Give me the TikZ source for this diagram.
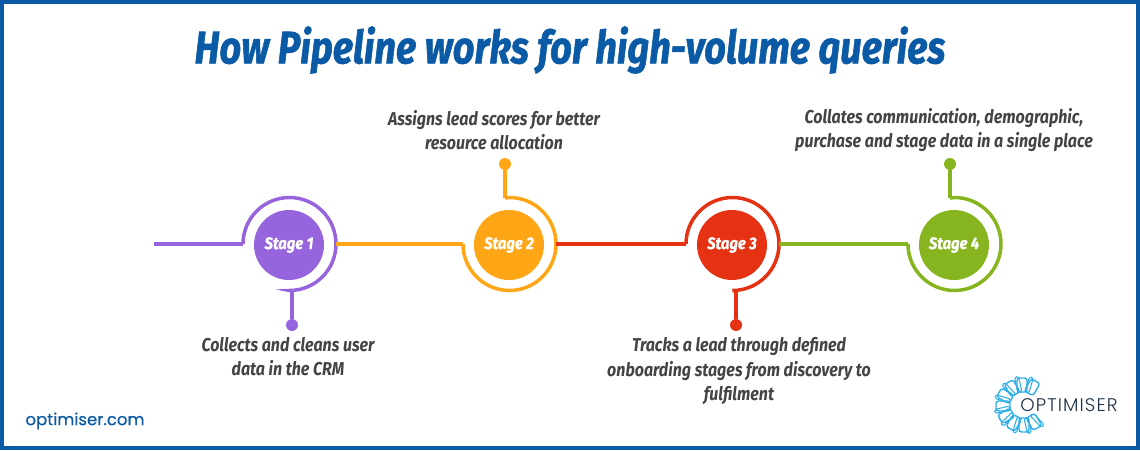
\documentclass[tikz,border=0pt]{standalone}
\usepackage{fontspec}
\setmainfont{Fira Sans}
\newfontfamily\headfont[FakeStretch=0.86]{Fira Sans}
\newfontfamily\titlefont[FakeStretch=0.83,FakeBold=1.2]{Fira Sans}
\newfontfamily\stagefont[FakeStretch=0.88,FakeBold=0.8]{Fira Sans}
\newfontfamily\urlfont[FakeBold=0.4]{Poppins}
\newfontfamily\logofont[LetterSpace=6]{Poppins Light}
\definecolor{framecol}{HTML}{0B5AA5}
\definecolor{textcol}{HTML}{444444}
\definecolor{purplecol}{HTML}{9664DC}
\definecolor{orangecol}{HTML}{FFA616}
\definecolor{redcol}{HTML}{E53212}
\definecolor{greencol}{HTML}{86B51F}
\definecolor{logocol}{HTML}{2FAEE8}
\definecolor{logotext}{HTML}{1E2F45}

\begin{document}
\begin{tikzpicture}[x=0.02cm,y=-0.02cm]
\tikzset{stage/.style = {shape=circle,minimum size=1.4cm,inner sep=0pt,text=white,
	font=\stagefont\bfseries\itshape\fontsize{9.6}{11}\selectfont}}
\tikzset{dot/.style = {shape=circle,minimum size=0.24cm,inner sep=0pt}}
\tikzset{caption/.style = {align=center,text=textcol,
	font=\headfont\bfseries\itshape\fontsize{10.6}{13.7}\selectfont}}
\tikzset{edge/.style = {line width=2.3pt}}
\tikzset{ring/.style = {line width=2pt}}
\useasboundingbox (0,0) rectangle (1140,450);
\draw[framecol,line width=2.3pt] (2,2) rectangle (1138,448);

% vertices
\node[stage,fill=purplecol] (s1) at (289,245) {Stage 1};
\node[stage,fill=orangecol] (s2) at (509,245) {Stage 2};
\node[stage,fill=redcol] (s3) at (732,245) {Stage 3};
\node[stage,fill=greencol] (s4) at (954,245) {Stage 4};

\node[dot,fill=purplecol] (d1) at (292,325) {};
\node[dot,fill=orangecol] (d2) at (505,164) {};
\node[dot,fill=redcol] (d3) at (736,325) {};
\node[dot,fill=greencol] (d4) at (950,164) {};

\coordinate (start) at (154,244);
\coordinate (a1) at (243,244);
\coordinate (f1) at (292,291);
\coordinate (r1) at (336,244);
\coordinate (a2) at (463,244);
\coordinate (f2) at (505,198);
\coordinate (r2) at (556,244);
\coordinate (a3) at (686,244);
\coordinate (f3) at (736,291);
\coordinate (r3) at (779,244);
\coordinate (a4) at (908,244);
\coordinate (f4) at (950,198);

% labels
\node[text=framecol,font=\titlefont\bfseries\itshape\fontsize{26}{32}\selectfont] (title) at (570,50) {How Pipeline works for high-volume queries};
\node[caption] (c1) at (288,357) {Collects and cleans user\\data in the CRM};
\node[caption] (c2) at (494,130) {Assigns lead scores for better\\resource allocation};
\node[caption] (c3) at (739,371) {Tracks a lead through defined\\onboarding stages from discovery to\\fulfilment};
\node[caption] (c4) at (944,130) {Collates communication, demographic,\\purchase and stage data in a single place};
\node[text=framecol,font=\urlfont\fontsize{9.4}{12}\selectfont] (url) at (85,421) {optimiser.com};

% logo
\foreach \a in {-30,0,...,210} {
	\draw[logocol,line width=0.8pt,rounded corners=1.5pt,shift={(1023,405)},rotate=\a]
		(-6,-27) rectangle (4,-13);
	\draw[logocol,line width=0.6pt,rounded corners=1pt,shift={(1023,405)},rotate=\a+13]
		(-2,-29) rectangle (2,-13);
}
\node[text=logotext,font=\logofont\fontsize{10.4}{14}\selectfont,inner sep=0pt] (logo) at (1069,405) {OPTIMISER};

%edges
\draw[edge,purplecol] (start) to (a1);
\draw[ring,purplecol] (a1) arc[start angle=180,end angle=-90,radius=0.93cm] -- (f1);
\draw[edge,purplecol] (f1) to (d1);
\draw[edge,orangecol] (r1) to (a2);
\draw[ring,orangecol] (a2) arc[start angle=180,end angle=450,radius=0.93cm] -- (f2);
\draw[edge,orangecol] (f2) to (d2);
\draw[edge,redcol] (r2) to (a3);
\draw[ring,redcol] (a3) arc[start angle=180,end angle=-90,radius=0.93cm] -- (f3);
\draw[edge,redcol] (f3) to (d3);
\draw[edge,greencol] (r3) to (a4);
\draw[ring,greencol] (a4) arc[start angle=180,end angle=450,radius=0.93cm] -- (f4);
\draw[edge,greencol] (f4) to (d4);
\end{tikzpicture}
\end{document}
